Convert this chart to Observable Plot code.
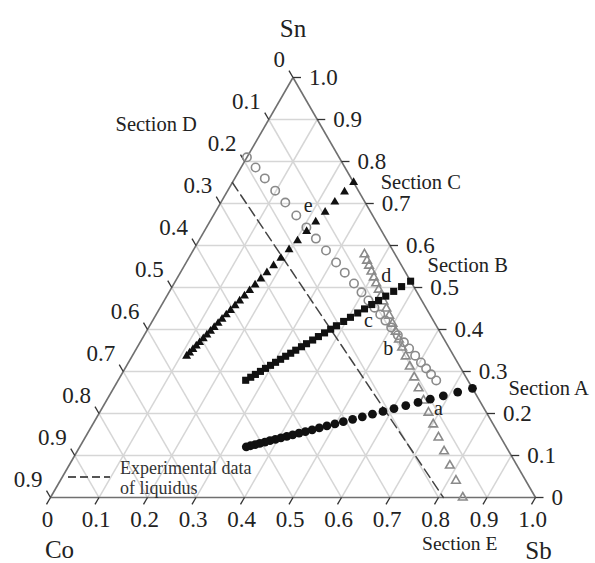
<!DOCTYPE html>
<html>
<head>
<meta charset="utf-8">
<script src="https://cdn.jsdelivr.net/npm/d3@7"></script>
<script src="https://cdn.jsdelivr.net/npm/@observablehq/plot@0.6"></script>
<style>
  html, body { margin: 0; padding: 0; background: #fff; }
  #wrap { position: relative; width: 595px; height: 563px; }
  #legend { position: absolute; left: 66px; top: 458px; font-family: "Liberation Serif", "Times New Roman", serif; font-size: 18px; color: #333; display: flex; align-items: flex-start; line-height: 20px; }
  #legend svg { margin-top: 17px; margin-right: 8px; }
</style>
</head>
<body>
<div id="wrap"><div id="chart"></div>
  <div id="legend"><svg width="46" height="4"><line x1="2" y1="2" x2="44" y2="2" stroke="#555" stroke-width="2" stroke-dasharray="8,4"/></svg><div>Experimental data<br>of liquidus</div></div>
</div>
<script>
// ---- tick values and labels ----
const tickValues = [0, 0.1, 0.2, 0.3, 0.4, 0.5, 0.6, 0.7, 0.8, 0.9, 1.0];
const bottomLabels = ["0", "0.1", "0.2", "0.3", "0.4", "0.5", "0.6", "0.7", "0.8", "0.9", "1.0"]; // Sb
const leftLabels = ["0", "0.1", "0.2", "0.3", "0.4", "0.5", "0.6", "0.7", "0.8", "0.9", "0.9"];    // Co (as printed)
const rightLabels = ["0", "0.1", "0.2", "0.3", "0.4", "0.5", "0.6", "0.7", "0.8", "0.9", "1.0"];  // Sn
const gridValues = [0.1, 0.2, 0.3, 0.4, 0.5, 0.6, 0.7, 0.8, 0.9];

// ---- Sections A, B, C: rays from the Co corner, Co fraction of each point ----
const sectionA_end = { Sn: 0.26, Sb: 0.74 };
const sectionA_Co = [0, 0.035, 0.069, 0.100, 0.129, 0.158, 0.186, 0.212, 0.237, 0.261, 0.284, 0.306, 0.326, 0.345, 0.363, 0.380, 0.396, 0.411, 0.426, 0.440, 0.454, 0.467, 0.480, 0.492, 0.504, 0.515, 0.526, 0.536];
const sectionB_end = { Sn: 0.515, Sb: 0.485 };
const sectionB_Co = [0, 0.025, 0.047, 0.069, 0.089, 0.108, 0.128, 0.147, 0.167, 0.186, 0.206, 0.222, 0.239, 0.256, 0.272, 0.289, 0.303, 0.319, 0.333, 0.347, 0.361, 0.375, 0.389, 0.403, 0.417, 0.431, 0.444, 0.458];
const sectionC_end = { Sn: 0.75, Sb: 0.25 };
const sectionC_Co = [0, 0.030, 0.062, 0.094, 0.125, 0.155, 0.185, 0.213, 0.240, 0.264, 0.286, 0.306, 0.325, 0.343, 0.360, 0.376, 0.391, 0.406, 0.420, 0.434, 0.447, 0.460, 0.472, 0.484, 0.496, 0.508, 0.519, 0.530, 0.541, 0.551];
// ---- Section D: ray from the Sb corner (Co:Sn fixed), Sb fraction ----
const sectionD_base = { Co: 0.19, Sn: 0.81 };
const sectionD_Sb = [0, 0.030, 0.062, 0.098, 0.133, 0.171, 0.206, 0.239, 0.274, 0.309, 0.339, 0.371, 0.397, 0.421, 0.442, 0.462, 0.480, 0.500, 0.523, 0.544, 0.562, 0.583, 0.603, 0.621, 0.638, 0.656];
// ---- Section E: ray from the Sn corner (Co:Sb fixed), Sn fraction ----
const sectionE_base = { Co: 0.15, Sb: 0.85 };
const sectionE_Sn = [0, 0.040, 0.076, 0.110, 0.143, 0.174, 0.202, 0.231, 0.260, 0.286, 0.312, 0.336, 0.357, 0.376, 0.395, 0.414, 0.433, 0.450, 0.467, 0.481, 0.495, 0.510, 0.524, 0.538, 0.552, 0.564, 0.579];

// ---- Experimental liquidus (dashed) ----
const liquidus = [ { Co: 0.25, Sn: 0.75, Sb: 0.0 }, { Co: 0.19, Sn: 0.0, Sb: 0.81 } ];

// ---- point letters ----
const letterNames = ["a", "b", "c", "d", "e"];
const letterSn = [0.212, 0.355, 0.421, 0.529, 0.695];
const letterSb = [0.694, 0.519, 0.445, 0.428, 0.184];

// ---- projection (Co left, Sb right, Sn top) ----
const X = (Sn, Sb) => Sb + Sn / 2;
const Y = (Sn) => Sn;

const ray = (end, cos) => cos.map(c => ({ x: X((1 - c) * end.Sn, (1 - c) * end.Sb), y: Y((1 - c) * end.Sn) }));
const A = ray(sectionA_end, sectionA_Co);
const B = ray(sectionB_end, sectionB_Co);
const C = ray(sectionC_end, sectionC_Co);
const D = sectionD_Sb.map(s => ({ x: X((1 - s) * sectionD_base.Sn, s), y: Y((1 - s) * sectionD_base.Sn) }));
const E = sectionE_Sn.map(s => ({ x: X(s, (1 - s) * sectionE_base.Sb), y: Y(s) }));
const liq = liquidus.map(p => ({ x: X(p.Sn, p.Sb), y: Y(p.Sn) }));
const letters = letterNames.map((n, i) => ({ name: n, x: X(letterSn[i], letterSb[i]), y: Y(letterSn[i]) }));

const W = 595, H = 563;
const mL = 50, mR = 60, mT = 77, mB = 66;
const pxPerUnit = W - mL - mR; // 485
const tickLen = 8 / pxPerUnit;

const edges = [
  { x1: X(0, 0), y1: Y(0), x2: X(0, 1), y2: Y(0) },
  { x1: X(0, 1), y1: Y(0), x2: X(1, 0), y2: Y(1) },
  { x1: X(1, 0), y1: Y(1), x2: X(0, 0), y2: Y(0) }
];
const grid = [];
gridValues.forEach(k => {
  grid.push({ x1: X(k, 0), y1: Y(k), x2: X(k, 1 - k), y2: Y(k) });           // const Sn
  grid.push({ x1: X(0, k), y1: Y(0), x2: X(1 - k, k), y2: Y(1 - k) });       // const Sb
  grid.push({ x1: X(0, 1 - k), y1: Y(0), x2: X(1 - k, 0), y2: Y(1 - k) });   // const Co
});

const bottomTicks = tickValues.map((k, i) => ({ x: X(0, k), y: Y(0), x2: X(0, k) - tickLen / 2, y2: -tickLen, label: bottomLabels[i] }));
const leftTicks = tickValues.map((c, i) => ({ x: X(1 - c, 0), y: Y(1 - c), x2: X(1 - c, 0) - tickLen / 2, y2: Y(1 - c) + tickLen, label: leftLabels[i] }));
const rightTicks = tickValues.map((s, i) => ({ x: X(s, 1 - s), y: Y(s), x2: X(s, 1 - s) + tickLen, y2: Y(s), label: rightLabels[i] }));

const serif = '"Liberation Serif", "Times New Roman", serif';
const textCol = "#222";
const edgeCol = "#707070";
const grayMark = "#8a8a8a";

const sectionLabels = [
  { name: "Section A", p: A[0], dx: 36, dy: 0, anchor: "start" },
  { name: "Section B", p: B[0], dx: 17, dy: -16, anchor: "start" },
  { name: "Section C", p: C[0], dx: 27, dy: 0, anchor: "start" },
  { name: "Section D", p: D[0], dx: -50, dy: -33, anchor: "end" },
  { name: "Section E", p: E[0], dx: -3, dy: 46, anchor: "middle" }
];

const corners = [
  { name: "Sn", x: X(1, 0), y: Y(1), dx: 0, dy: -49 },
  { name: "Co", x: X(0, 0), y: Y(0), dx: 9, dy: 52 },
  { name: "Sb", x: X(0, 1), y: Y(0), dx: 3, dy: 53 }
];

const chart = Plot.plot({
  width: W, height: H,
  marginLeft: mL, marginRight: mR, marginTop: mT, marginBottom: mB,
  x: { domain: [0, 1], axis: null },
  y: { domain: [0, 1], axis: null },
  style: { fontFamily: serif, background: "#fff", color: textCol, overflow: "visible" },
  marks: [
    Plot.link(grid, { x1: "x1", y1: "y1", x2: "x2", y2: "y2", stroke: "#d6d6d6", strokeWidth: 1.5 }),
    Plot.link(edges, { x1: "x1", y1: "y1", x2: "x2", y2: "y2", stroke: edgeCol, strokeWidth: 1.6 }),
    Plot.link(bottomTicks, { x1: "x", y1: "y", x2: "x2", y2: "y2", stroke: "#333", strokeWidth: 1.3 }),
    Plot.link(leftTicks, { x1: "x", y1: "y", x2: "x2", y2: "y2", stroke: "#333", strokeWidth: 1.3 }),
    Plot.link(rightTicks, { x1: "x", y1: "y", x2: "x2", y2: "y2", stroke: "#333", strokeWidth: 1.3 }),
    Plot.text(bottomTicks, { x: "x", y: "y", text: "label", dx: -3, dy: 22, fontSize: 23, fill: textCol, textAnchor: "middle" }),
    Plot.text(leftTicks, { x: "x", y: "y", text: "label", dx: -8, dy: -18, fontSize: 23, fill: textCol, textAnchor: "end" }),
    Plot.text(rightTicks, { x: "x", y: "y", text: "label", dx: 16, dy: 0, fontSize: 23, fill: textCol, textAnchor: "start" }),
    Plot.line(liq, { x: "x", y: "y", stroke: "#444", strokeWidth: 1.5, strokeDasharray: "10,5" }),
    Plot.dot(E, { x: "x", y: "y", symbol: "triangle", r: 3.2, stroke: grayMark, strokeWidth: 1.6, fill: "none" }),
    Plot.dot(D, { x: "x", y: "y", symbol: "circle", r: 4.2, stroke: grayMark, strokeWidth: 1.6, fill: "none" }),
    Plot.dot(A, { x: "x", y: "y", symbol: "circle", r: 4.4, fill: "#111", stroke: "none" }),
    Plot.dot(B, { x: "x", y: "y", symbol: "square", r: 4, fill: "#111", stroke: "none" }),
    Plot.dot(C, { x: "x", y: "y", symbol: "triangle", r: 3.3, fill: "#111", stroke: "none" }),
    Plot.text(letters, { x: "x", y: "y", text: "name", fontSize: 20, fill: textCol }),
    ...sectionLabels.map(d =>
      Plot.text([d], { x: v => v.p.x, y: v => v.p.y, text: "name", dx: d.dx, dy: d.dy, textAnchor: d.anchor, fontSize: d.anchor === "middle" ? 19.5 : 20.5, fill: textCol })),
    ...corners.map(c => Plot.text([c], { x: "x", y: "y", text: "name", dx: c.dx, dy: c.dy, fontSize: 25, fill: textCol, textAnchor: "middle" }))
  ]
});
document.getElementById("chart").appendChild(chart);
</script>
</body>
</html>
